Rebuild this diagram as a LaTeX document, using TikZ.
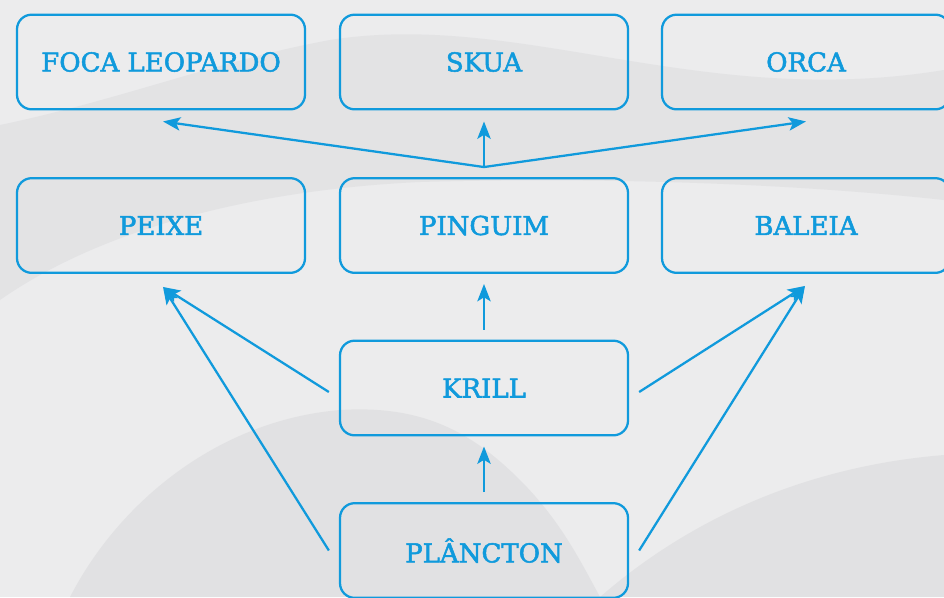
\documentclass[tikz,border=0pt]{standalone}
\usepackage{fontspec}
\newfontfamily\rotulo[FakeBold=2]{DejaVu Serif}
\usepackage{xcolor}
\usepackage{tikz}
\usetikzlibrary{arrows.meta, calc, positioning}

\definecolor{azul}{RGB}{16,154,220}
\definecolor{fundo}{RGB}{236,236,237}
\definecolor{sombra}{RGB}{221,221,223}

\tikzset{
    caixa/.style={draw=azul, line width=1.7pt, rounded corners=11pt,
        minimum width=216pt, minimum height=71pt, inner sep=0pt,
        text=azul, font=\rotulo\fontsize{19.5}{19.5}\selectfont},
    seta/.style={->, draw=azul, line width=1.7pt}
}

\begin{document}
\begin{tikzpicture}[x=0.75pt, y=-0.75pt, >={Stealth[length=13pt, width=10pt, inset=3pt]}]

    % fundo ondulado
    \useasboundingbox (0,0) rectangle (944,597);
    \fill[fundo] (0,0) rectangle (944,597);
    \fill[sombra, opacity=0.6] (0,125)
        .. controls (120,100) and (220,60) .. (330,40)
        .. controls (520,10) and (700,110) .. (944,70)
        -- (944,200)
        .. controls (760,180) and (560,178) .. (420,182)
        .. controls (250,190) and (100,230) .. (0,300) -- cycle;
    \fill[sombra, opacity=0.7] (70,597)
        .. controls (120,500) and (220,420) .. (340,410)
        .. controls (420,405) and (470,430) .. (520,480)
        .. controls (560,520) and (580,560) .. (600,597) -- cycle;
    \fill[sombra, opacity=0.7] (600,597)
        .. controls (700,510) and (820,465) .. (944,455)
        -- (944,597) -- cycle;

    % caixas
    \node[caixa] (foca)     at (161,62)    {FOCA LEOPARDO};
    \node[caixa] (skua)     at (484,62)    {SKUA};
    \node[caixa] (orca)     at (806,62)    {ORCA};
    \node[caixa] (peixe)    at (161,225.5) {PEIXE};
    \node[caixa] (pinguim)  at (484,225.5) {PINGUIM};
    \node[caixa] (baleia)   at (806,225.5) {BALEIA};
    \node[caixa] (krill)    at (484,388)   {KRILL};
    \node[caixa] (plancton) at (484,550.5) {PLÂNCTON};

    % pontos de partida e chegada das setas
    \coordinate (juncao) at ($(pinguim.north)+(0,-10)$);
    \coordinate (krillE) at ($(krill.west)+(-10,4)$);
    \coordinate (krillD) at ($(krill.east)+(10,4)$);
    \coordinate (planctonE) at ($(plancton.west)+(-10,0)$);
    \coordinate (planctonD) at ($(plancton.east)+(10,0)$);

    % setas
    \draw[seta] (juncao) -- ($(foca.south)+(2,11)$);
    \draw[seta] (juncao) -- ($(skua.south)+(0,11)$);
    \draw[seta] (juncao) -- ($(orca.south)+(0,11)$);
    \draw[seta] ($(krill.north)+(0,-10)$) -- ($(pinguim.south)+(0,10)$);
    \draw[seta] (krillE) -- ($(peixe.south)+(2,13)$);
    \draw[seta] (krillD) -- ($(baleia.south)+(-1,12)$);
    \draw[seta] ($(plancton.north)+(0,-10)$) -- ($(krill.south)+(0,10)$);
    \draw[seta] (planctonE) -- ($(peixe.south)+(2,13)$);
    \draw[seta] (planctonD) -- ($(baleia.south)+(-1,12)$);

\end{tikzpicture}
\end{document}
